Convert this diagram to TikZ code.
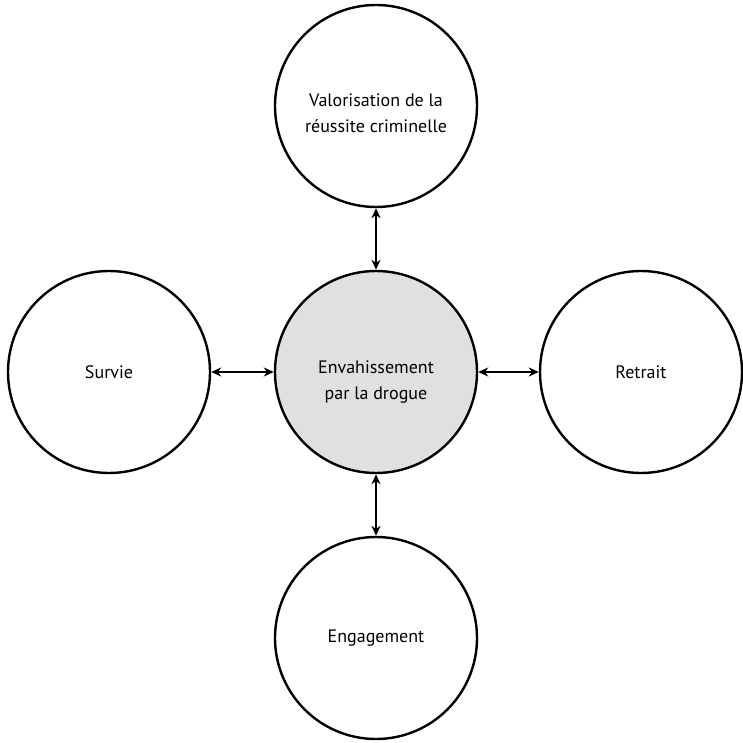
\documentclass[tikz,border=0pt]{standalone}
\usepackage{fontspec}
\setmainfont{PT Sans}
\usetikzlibrary{arrows.meta}
\tikzset{
  bubble/.style={circle, draw=black, line width=2.4pt, minimum size=202pt, inner sep=0pt, align=center, font=\fontsize{18}{26}\selectfont},
  hub/.style={bubble, fill=gray!24},
  link/.style={line width=2pt, {Stealth[length=10pt,width=9pt]}-{Stealth[length=10pt,width=9pt]}}
}
\begin{document}
\begin{tikzpicture}[x=1pt,y=1pt]
\useasboundingbox (0,0) rectangle (743,742);
\node[hub] (c) at (376,370) {\parbox{170pt}{\centering\vspace*{20pt}Envahissement\\par la drogue}};
\node[bubble] (t) at (376,636) {\parbox{170pt}{\centering\vspace*{14pt}Valorisation de la\\réussite criminelle}};
\node[bubble] (l) at (109,370) {Survie};
\node[bubble] (r) at (641,370) {Retrait};
\node[bubble] (b) at (376,104) {Engagement};
\draw[link] (t) -- (c);
\draw[link] (l) -- (c);
\draw[link] (c) -- (r);
\draw[link] (c) -- (b);
\end{tikzpicture}
\end{document}
